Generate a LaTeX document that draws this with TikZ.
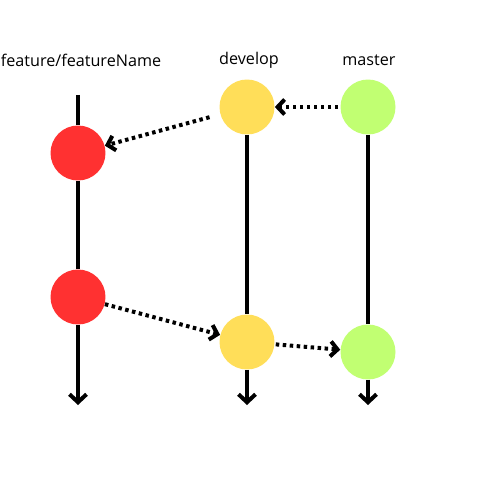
\documentclass[tikz,border=0pt]{standalone}
\usepackage{fontspec}
\setmainfont{Open Sans}
\usetikzlibrary{arrows.meta}
\definecolor{cred}{HTML}{FF3131}
\definecolor{cyel}{HTML}{FFDE59}
\definecolor{cgrn}{HTML}{C1FF72}
\tikzset{
  commit/.style={circle, minimum size=1.1cm, inner sep=0pt, draw=none},
  lbl/.style={font=\fontsize{9.2}{11}\selectfont, text=black},
  branch/.style={line width=0.08cm, -{Straight Barb[length=0.16cm,width=0.34cm]}},
  plain/.style={line width=0.08cm},
  merge/.style={line width=0.08cm, dash pattern=on 0.07cm off 0.07cm, -{Straight Barb[length=0.14cm,width=0.3cm]}},
}
\begin{document}
\begin{tikzpicture}[x=0.02cm,y=-0.02cm]
\useasboundingbox (0,0) rectangle (500,500);
\node[lbl] (lf) at (81,60) {feature/featureName};
\node[lbl] (ld) at (249,60) {develop};
\node[lbl] (lm) at (369,60) {master};
\node[commit, fill=cred] (r1) at (78,153) {};
\node[commit, fill=cred] (r2) at (78,297) {};
\node[commit, fill=cyel] (y1) at (247,107) {};
\node[commit, fill=cyel] (y2) at (247,342) {};
\node[commit, fill=cgrn] (g1) at (368,107) {};
\node[commit, fill=cgrn] (g2) at (368,352) {};
\coordinate (ftop) at (78,95);
\coordinate (fbot) at (78,405);
\coordinate (dbot) at (247,405);
\coordinate (mbot) at (368,405);
\draw[plain] (ftop) -- (r1);
\draw[plain] (r1) -- (r2);
\draw[branch] (r2) -- (fbot);
\draw[plain] (y1) -- (y2);
\draw[branch] (y2) -- (dbot);
\draw[plain] (g1) -- (g2);
\draw[branch] (g2) -- (mbot);
\draw[merge, shorten <=0.22cm] (y1) -- (r1);
\draw[merge, shorten <=0.04cm] (g1) -- (y1);
\draw[merge] (r2) -- (y2);
\draw[merge, shorten <=0.02cm] (y2) -- (g2);
\end{tikzpicture}
\end{document}
